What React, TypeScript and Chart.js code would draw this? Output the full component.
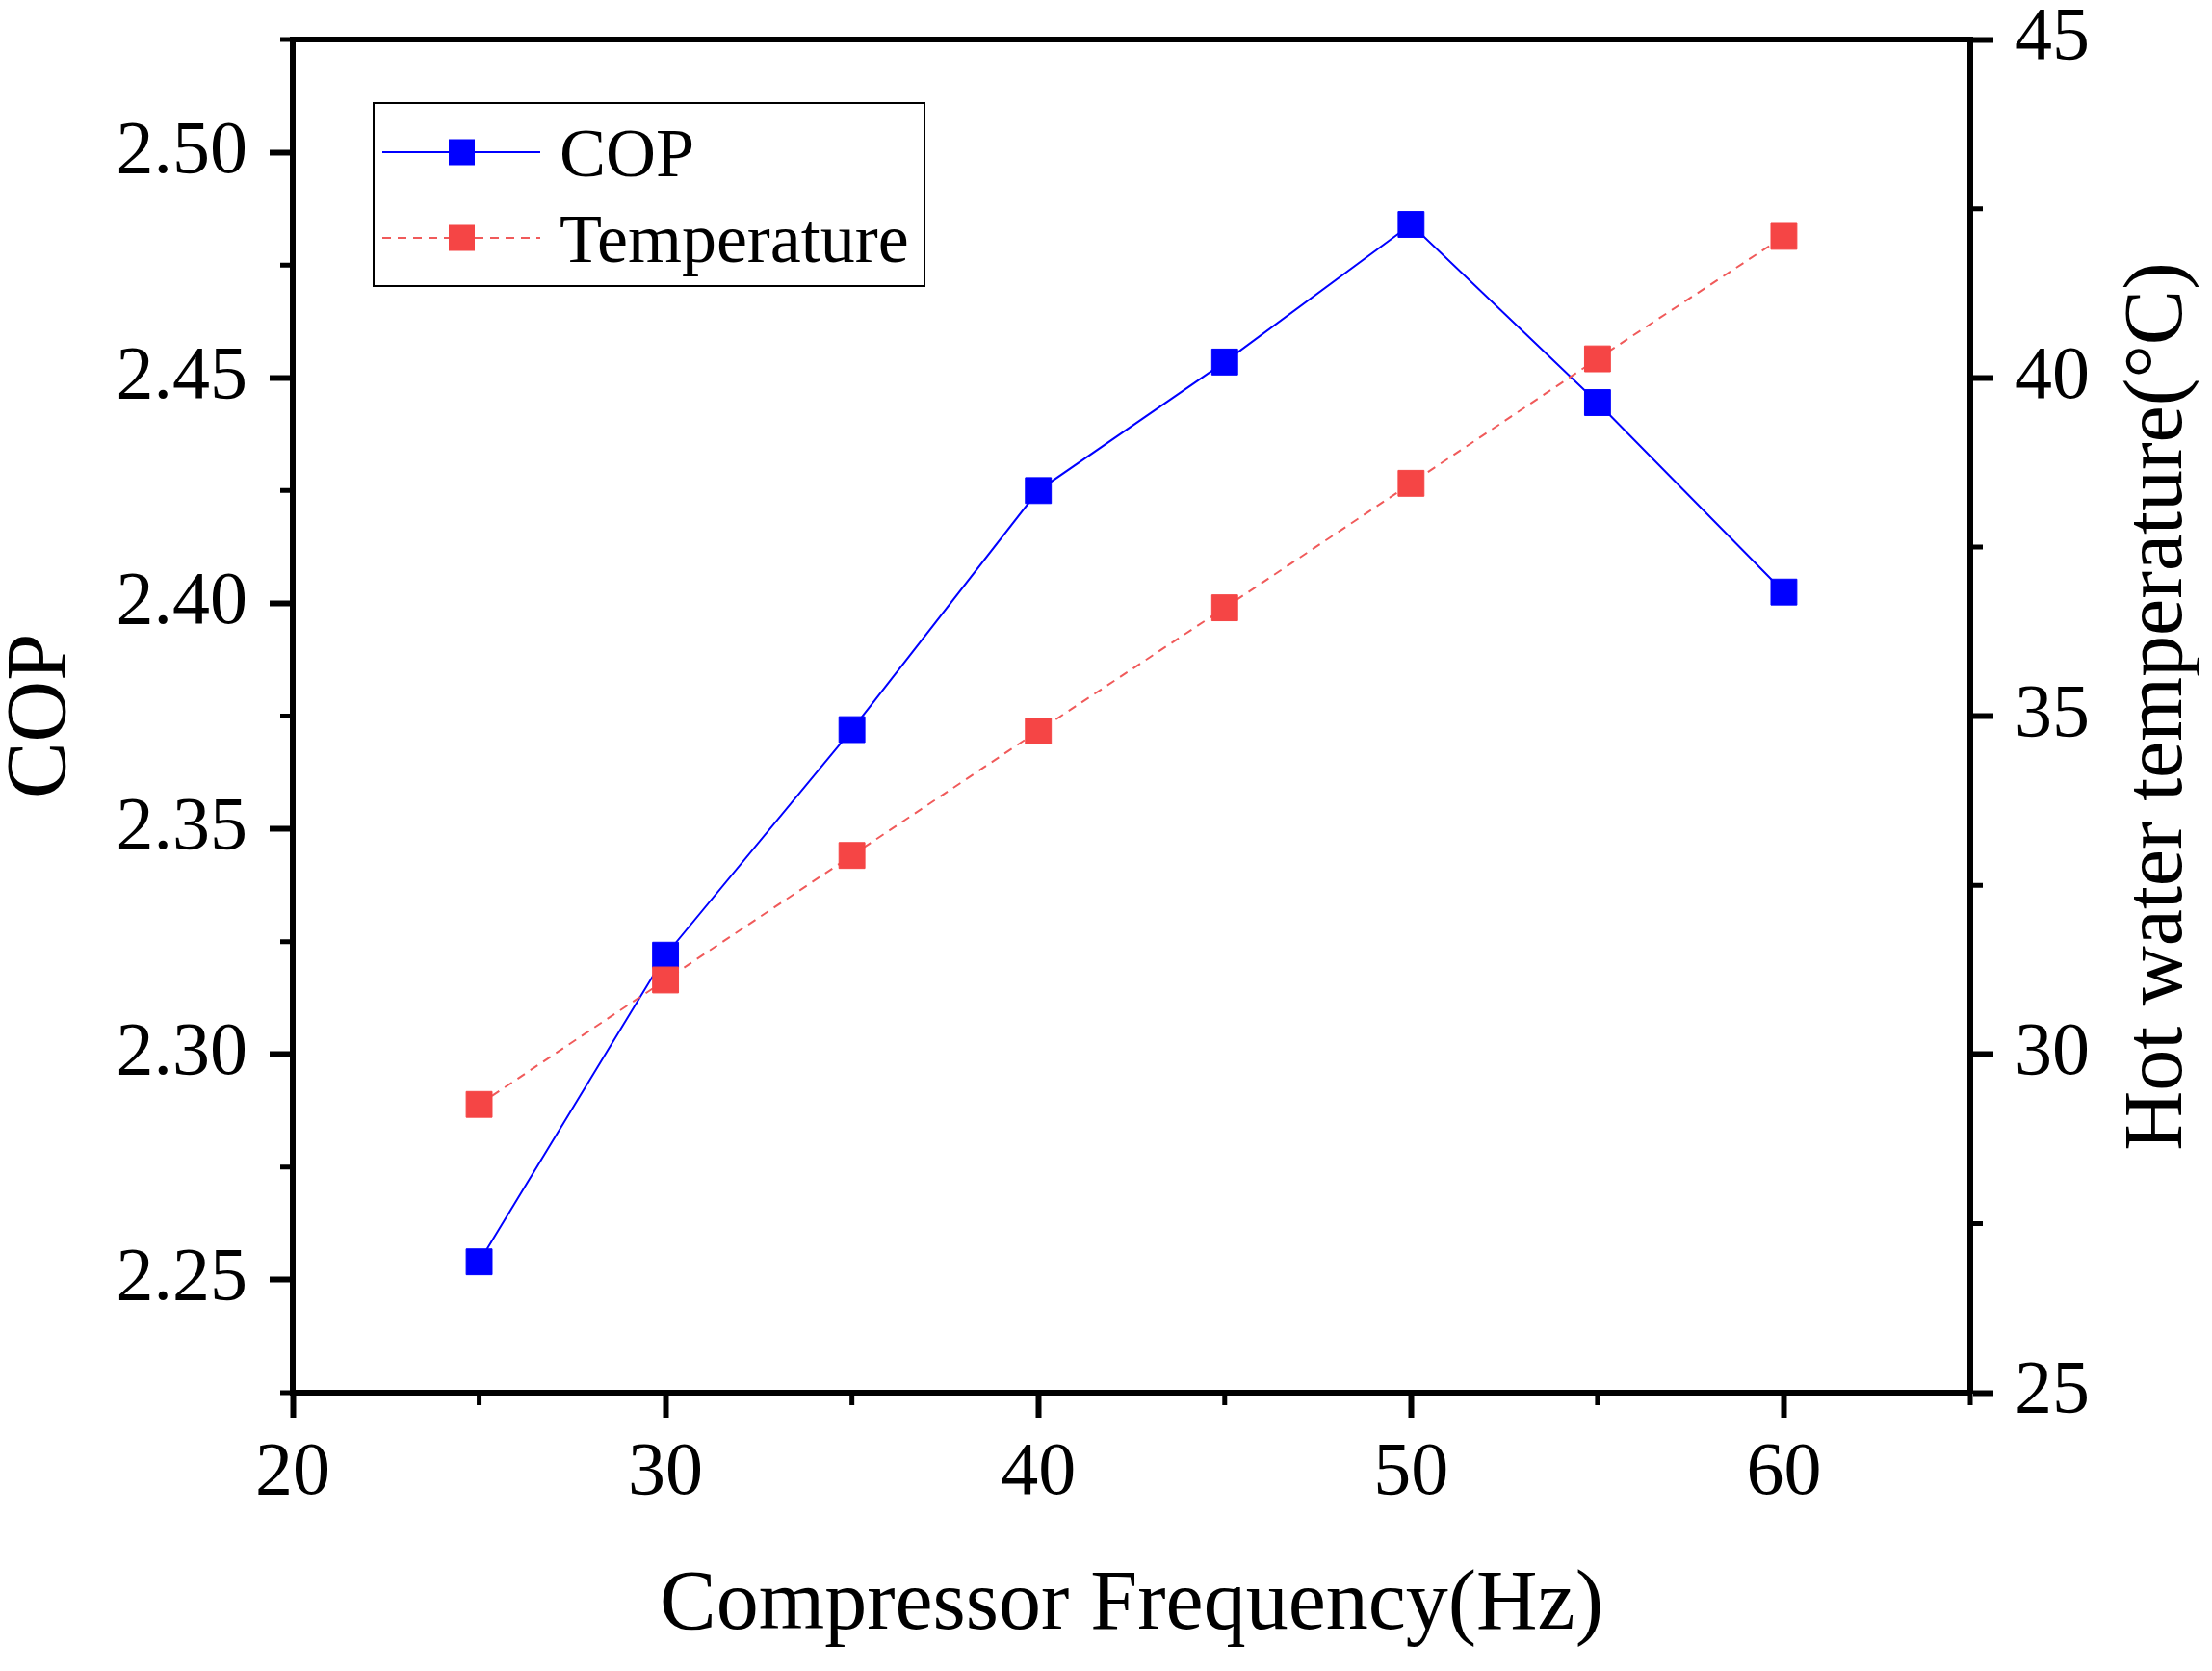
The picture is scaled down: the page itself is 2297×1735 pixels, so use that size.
import React, { useEffect, useRef } from 'react';
import { Chart, registerables } from 'chart.js';

Chart.register(...registerables);

// ---- data ----
const FREQUENCY = [25, 30, 35, 40, 45, 50, 55, 60];
const COP = [2.254, 2.322, 2.372, 2.425, 2.4535, 2.484, 2.4445, 2.4025];
const TEMPERATURE = [29.26, 31.1, 32.94, 34.78, 36.6, 38.44, 40.28, 42.09];

const FREQ_TICKS = [20, 30, 40, 50, 60];
const FREQ_MINOR = [25, 35, 45, 55, 65];
const COP_TICKS = [2.25, 2.3, 2.35, 2.4, 2.45, 2.5];
const COP_MINOR = [2.225, 2.275, 2.325, 2.375, 2.425, 2.475, 2.525];
const TEMP_TICKS = [25, 30, 35, 40, 45];
const TEMP_MINOR = [27.5, 32.5, 37.5, 42.5];

const X_TITLE = 'Compressor Frequency(Hz)';
const Y_TITLE = 'COP';
const Y1_TITLE = 'Hot water temperature(°C)';
const LABEL_COP = 'COP';
const LABEL_TEMP = 'Temperature';

const FAMILY = "'Liberation Serif', 'Times New Roman', serif";
const BLUE = '#0000FF';
const RED = '#F54545';
const RED_LINE = '#F05A5A';

const noPad = (s: any) => {
  s.paddingTop = 0;
  s.paddingBottom = 0;
  s.paddingLeft = 0;
  s.paddingRight = 0;
};

const decorPlugin = {
  id: 'decor',
  afterDraw(chart: any) {
    const { ctx, chartArea, scales } = chart;
    const { left, right, top, bottom } = chartArea;
    ctx.save();
    ctx.strokeStyle = '#000';
    // top frame line
    ctx.lineWidth = 6;
    ctx.beginPath();
    ctx.moveTo(left - 3, top);
    ctx.lineTo(right + 3, top);
    ctx.stroke();

    // minor ticks
    const mLen = 10;
    ctx.lineWidth = 5;
    ctx.beginPath();
    COP_MINOR.forEach((v) => {
      const y = scales.y.getPixelForValue(v);
      ctx.moveTo(left - 3 - mLen, y);
      ctx.lineTo(left, y);
    });
    TEMP_MINOR.forEach((v) => {
      const y = scales.y1.getPixelForValue(v);
      ctx.moveTo(right, y);
      ctx.lineTo(right + 3 + mLen, y);
    });
    FREQ_MINOR.forEach((v) => {
      const x = scales.x.getPixelForValue(v);
      ctx.moveTo(x, bottom);
      ctx.lineTo(x, bottom + 3 + mLen);
    });
    ctx.stroke();

    // right axis title, reading bottom-to-top
    ctx.fillStyle = '#000';
    ctx.font = `86px ${FAMILY}`;
    ctx.textAlign = 'center';
    ctx.textBaseline = 'alphabetic';
    ctx.translate(right + 219, (top + bottom) / 2 - 10);
    ctx.rotate(-Math.PI / 2);
    ctx.fillText(Y1_TITLE, 0, 0);
    ctx.restore();

    // legend
    ctx.save();
    const bx = left + 84;
    const by = top + 66;
    const bw = 572;
    const bh = 190;
    ctx.lineWidth = 2;
    ctx.strokeStyle = '#000';
    ctx.strokeRect(bx, by, bw, bh);
    const rows = [
      { label: chart.data.datasets[0].label, color: BLUE, line: BLUE, dash: [] as number[], cy: by + 51, base: by + 76 },
      { label: chart.data.datasets[1].label, color: RED, line: RED_LINE, dash: [9, 7], cy: by + 140, base: by + 165 },
    ];
    rows.forEach((r) => {
      ctx.strokeStyle = r.line;
      ctx.lineWidth = 2;
      ctx.setLineDash(r.dash);
      ctx.beginPath();
      ctx.moveTo(bx + 9, r.cy);
      ctx.lineTo(bx + 173, r.cy);
      ctx.stroke();
      ctx.setLineDash([]);
      ctx.fillStyle = r.color;
      ctx.fillRect(bx + 91.5 - 13.5, r.cy - 13.5, 27, 27);
      ctx.fillStyle = '#000';
      ctx.font = `72px ${FAMILY}`;
      ctx.textAlign = 'left';
      ctx.textBaseline = 'alphabetic';
      ctx.fillText(r.label, bx + 193, r.base);
    });
    ctx.restore();
  },
};

export default function App() {
  const ref = useRef<HTMLCanvasElement>(null);

  useEffect(() => {
    if (!ref.current) return;
    const copPoints = FREQUENCY.map((f, i) => ({ x: f, y: COP[i] }));
    const tempPoints = FREQUENCY.map((f, i) => ({ x: f, y: TEMPERATURE[i] }));

    const tickFont = { family: FAMILY, size: 78, lineHeight: 1 };
    const titleFont = { family: FAMILY, size: 88, lineHeight: 1 };

    const chart = new Chart(ref.current, {
      type: 'line',
      data: {
        datasets: [
          {
            label: LABEL_COP,
            data: copPoints,
            yAxisID: 'y',
            borderColor: BLUE,
            borderWidth: 2,
            pointStyle: 'rect',
            pointRadius: 19,
            pointBackgroundColor: BLUE,
            pointBorderColor: BLUE,
            pointBorderWidth: 1,
            tension: 0,
            clip: false,
            order: 1,
          } as any,
          {
            label: LABEL_TEMP,
            data: tempPoints,
            yAxisID: 'y1',
            borderColor: RED_LINE,
            borderWidth: 2,
            borderDash: [9, 7],
            pointStyle: 'rect',
            pointRadius: 19,
            pointBackgroundColor: RED,
            pointBorderColor: RED,
            pointBorderWidth: 1,
            tension: 0,
            clip: false,
            order: 0,
          } as any,
        ],
      },
      options: {
        responsive: false,
        animation: false,
        devicePixelRatio: 1,
        layout: { padding: { top: 41, left: 0, right: 0, bottom: 0 } },
        plugins: {
          legend: { display: false },
          tooltip: { enabled: false },
        },
        scales: {
          x: {
            type: 'linear',
            position: 'bottom',
            min: 20,
            max: 65,
            afterBuildTicks: (s: any) => {
              s.ticks = FREQ_TICKS.map((v) => ({ value: v }));
            },
            afterFit: (s: any) => {
              s.height = 289;
              noPad(s);
            },
            grid: {
              display: true,
              drawOnChartArea: false,
              drawTicks: true,
              tickLength: 26,
              tickWidth: 6,
              tickColor: '#000',
              color: '#000',
            },
            border: { display: true, color: '#000', width: 6 },
            ticks: {
              color: '#000',
              font: tickFont,
              padding: 20,
              maxRotation: 0,
              autoSkip: false,
              callback: (v: any) => String(v),
            },
            title: {
              display: true,
              text: X_TITLE,
              color: '#000',
              font: titleFont,
              padding: { top: 0, bottom: 23 },
            },
          },
          y: {
            type: 'linear',
            position: 'left',
            min: 2.225,
            max: 2.525,
            afterBuildTicks: (s: any) => {
              s.ticks = COP_TICKS.map((v) => ({ value: v }));
            },
            afterFit: (s: any) => {
              s.width = 304;
              noPad(s);
            },
            grid: {
              display: true,
              drawOnChartArea: false,
              drawTicks: true,
              tickLength: 24,
              tickWidth: 6,
              tickColor: '#000',
              color: '#000',
            },
            border: { display: true, color: '#000', width: 6 },
            ticks: {
              color: '#000',
              font: tickFont,
              padding: 23,
              autoSkip: false,
              callback: (v: any) => Number(v).toFixed(2),
            },
            title: {
              display: true,
              text: Y_TITLE,
              color: '#000',
              font: titleFont,
              padding: { top: 0, bottom: 0 },
            },
          },
          y1: {
            type: 'linear',
            position: 'right',
            min: 25,
            max: 45,
            afterBuildTicks: (s: any) => {
              s.ticks = TEMP_TICKS.map((v) => ({ value: v }));
            },
            afterFit: (s: any) => {
              s.width = 251;
              noPad(s);
            },
            grid: {
              display: true,
              drawOnChartArea: false,
              drawTicks: true,
              tickLength: 24,
              tickWidth: 6,
              tickColor: '#000',
              color: '#000',
            },
            border: { display: true, color: '#000', width: 6 },
            ticks: {
              color: '#000',
              font: tickFont,
              padding: 22,
              autoSkip: false,
              callback: (v: any) => String(v),
            },
            title: { display: false },
          },
        },
      } as any,
      plugins: [decorPlugin],
    });

    return () => chart.destroy();
  }, []);

  return (
    <canvas
      ref={ref}
      width={2297}
      height={1735}
      style={{ position: 'absolute', left: 0, top: 0, width: 2297, height: 1735 }}
    />
  );
}
